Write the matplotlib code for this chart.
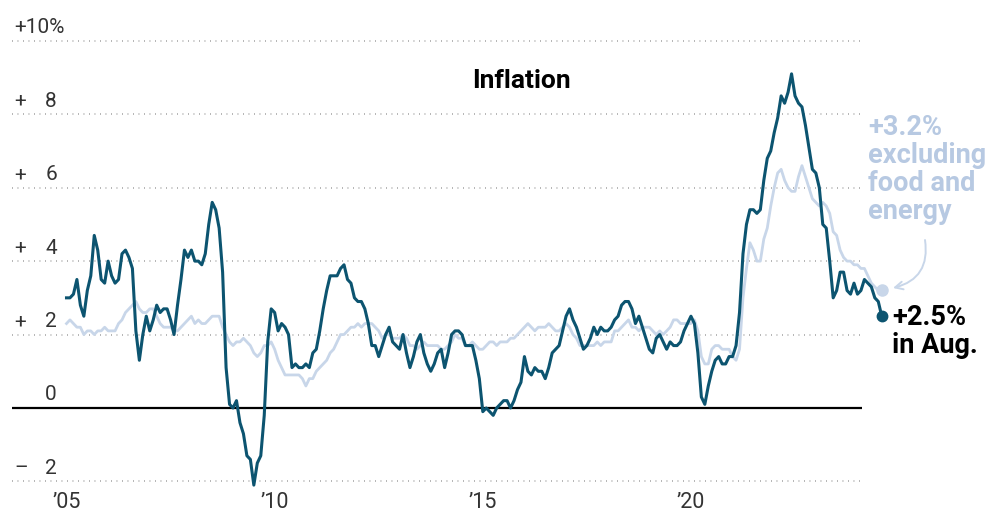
import numpy as np
import matplotlib
matplotlib.use("Agg")
import matplotlib.pyplot as plt

# monthly year-over-year change in CPI, Jan 2005 - Aug 2024
headline = [
    3.0, 3.0, 3.1, 3.5, 2.8, 2.5, 3.2, 3.6, 4.7, 4.3, 3.5, 3.4,
    4.0, 3.6, 3.4, 3.5, 4.2, 4.3, 4.1, 3.8, 2.1, 1.3, 2.0, 2.5,
    2.1, 2.4, 2.8, 2.6, 2.7, 2.7, 2.4, 2.0, 2.8, 3.5, 4.3, 4.1,
    4.3, 4.0, 4.0, 3.9, 4.2, 5.0, 5.6, 5.4, 4.9, 3.7, 1.1, 0.1,
    0.0, 0.2, -0.4, -0.7, -1.3, -1.4, -2.1, -1.5, -1.3, -0.2, 1.8, 2.7,
    2.6, 2.1, 2.3, 2.2, 2.0, 1.1, 1.2, 1.1, 1.1, 1.2, 1.1, 1.5,
    1.6, 2.1, 2.7, 3.2, 3.6, 3.6, 3.6, 3.8, 3.9, 3.5, 3.4, 3.0,
    2.9, 2.9, 2.7, 2.3, 1.7, 1.7, 1.4, 1.7, 2.0, 2.2, 1.8, 1.7,
    1.6, 2.0, 1.5, 1.1, 1.4, 1.8, 2.0, 1.5, 1.2, 1.0, 1.2, 1.5,
    1.6, 1.1, 1.5, 2.0, 2.1, 2.1, 2.0, 1.7, 1.7, 1.7, 1.3, 0.8,
    -0.1, 0.0, -0.1, -0.2, 0.0, 0.1, 0.2, 0.2, 0.0, 0.2, 0.5, 0.7,
    1.4, 1.0, 0.9, 1.1, 1.0, 1.0, 0.8, 1.1, 1.5, 1.6, 1.7, 2.1,
    2.5, 2.7, 2.4, 2.2, 1.9, 1.6, 1.7, 1.9, 2.2, 2.0, 2.2, 2.1,
    2.1, 2.2, 2.4, 2.5, 2.8, 2.9, 2.9, 2.7, 2.3, 2.5, 2.2, 1.9,
    1.6, 1.5, 1.9, 2.0, 1.8, 1.6, 1.8, 1.7, 1.7, 1.8, 2.1, 2.3,
    2.5, 2.3, 1.5, 0.3, 0.1, 0.6, 1.0, 1.3, 1.4, 1.2, 1.2, 1.4,
    1.4, 1.7, 2.6, 4.2, 5.0, 5.4, 5.4, 5.3, 5.4, 6.2, 6.8, 7.0,
    7.5, 7.9, 8.5, 8.3, 8.6, 9.1, 8.5, 8.3, 8.2, 7.7, 7.1, 6.5,
    6.4, 6.0, 5.0, 4.9, 4.0, 3.0, 3.2, 3.7, 3.7, 3.2, 3.1, 3.4,
    3.1, 3.2, 3.5, 3.4, 3.3, 3.0, 2.9, 2.5,
]
core = [
    2.3, 2.4, 2.3, 2.2, 2.2, 2.0, 2.1, 2.1, 2.0, 2.1, 2.1, 2.2,
    2.1, 2.1, 2.1, 2.3, 2.4, 2.6, 2.7, 2.8, 2.9, 2.7, 2.6, 2.6,
    2.7, 2.7, 2.5, 2.3, 2.2, 2.2, 2.2, 2.1, 2.1, 2.2, 2.3, 2.4,
    2.5, 2.3, 2.4, 2.3, 2.3, 2.4, 2.5, 2.5, 2.5, 2.2, 2.0, 1.8,
    1.7, 1.8, 1.8, 1.9, 1.8, 1.7, 1.5, 1.4, 1.5, 1.7, 1.7, 1.8,
    1.6, 1.3, 1.1, 0.9, 0.9, 0.9, 0.9, 0.9, 0.8, 0.6, 0.8, 0.8,
    1.0, 1.1, 1.2, 1.3, 1.5, 1.6, 1.8, 2.0, 2.0, 2.1, 2.2, 2.2,
    2.3, 2.2, 2.3, 2.3, 2.3, 2.2, 2.1, 1.9, 2.0, 2.0, 1.9, 1.9,
    1.9, 2.0, 1.9, 1.7, 1.7, 1.6, 1.7, 1.8, 1.7, 1.7, 1.7, 1.7,
    1.6, 1.6, 1.7, 1.8, 2.0, 1.9, 1.9, 1.7, 1.7, 1.8, 1.7, 1.6,
    1.6, 1.7, 1.8, 1.8, 1.7, 1.8, 1.8, 1.8, 1.9, 1.9, 2.0, 2.1,
    2.2, 2.3, 2.2, 2.1, 2.2, 2.2, 2.2, 2.3, 2.2, 2.1, 2.1, 2.2,
    2.3, 2.2, 2.0, 1.9, 1.7, 1.7, 1.7, 1.7, 1.7, 1.8, 1.7, 1.8,
    1.8, 1.8, 2.1, 2.1, 2.2, 2.3, 2.4, 2.2, 2.2, 2.1, 2.2, 2.2,
    2.2, 2.1, 2.0, 2.1, 2.0, 2.1, 2.2, 2.4, 2.4, 2.3, 2.3, 2.3,
    2.3, 2.4, 2.1, 1.4, 1.2, 1.2, 1.6, 1.7, 1.7, 1.6, 1.6, 1.6,
    1.4, 1.3, 1.6, 3.0, 3.8, 4.5, 4.3, 4.0, 4.0, 4.6, 4.9, 5.5,
    6.0, 6.4, 6.5, 6.2, 6.0, 5.9, 5.9, 6.3, 6.6, 6.3, 6.0, 5.7,
    5.6, 5.5, 5.6, 5.5, 5.3, 4.8, 4.7, 4.3, 4.1, 4.0, 4.0, 3.9,
    3.9, 3.8, 3.8, 3.6, 3.4, 3.3, 3.2, 3.2,
]
y_ticks = [10, 8, 6, 4, 2, 0, -2]
x_ticks = [2005, 2010, 2015, 2020]
x_tick_labels = ["\u201905", "\u201910", "\u201915", "\u201920"]

DARK = "#0c5470"
LIGHT = "#c8d6e9"
LIGHT_TXT = "#b7c9e2"
GRID = "#9a9a9a"
TXT = "#333333"

plt.rcParams['font.family'] = ['Roboto', 'DejaVu Sans']

t = 2005 + np.arange(len(headline)) / 12.0

W, H = 1000, 522
PX_YEAR = 41.63
X0 = 66.5          # pixel of Jan 2005
Y0 = 408.0         # pixel of 0%
PX_PCT = 36.72


def xd(px):
    return 2005 + (px - X0) / PX_YEAR


def yd(py):
    return (Y0 - py) / PX_PCT


fig = plt.figure(figsize=(W / 100, H / 100), dpi=100)
ax = fig.add_axes([0, 0, 1, 1])
ax.set_xlim(xd(0), xd(W))
ax.set_ylim(yd(H), yd(0))
ax.axis("off")

# gridlines
for v in y_ticks:
    if v == 0:
        ax.hlines(0, xd(12), xd(862), color="black", lw=1.6, zorder=2)
    else:
        ax.hlines(v, xd(12), xd(860), color=GRID, lw=1.1,
                  linestyles=(0, (0.6, 3.0)), zorder=1)

# y labels
for v in y_ticks:
    yb = v + 7.5 / PX_PCT
    if v == 10:
        ax.text(xd(14), yb, "+10%", fontsize=15, color=TXT,
                ha="left", va="baseline")
        continue
    sign = "+" if v > 0 else ("\u2013" if v < 0 else "")
    if sign:
        ax.text(xd(14), yb, sign, fontsize=15, color=TXT,
                ha="left", va="baseline")
    ax.text(xd(57), yb, str(abs(v)), fontsize=15, color=TXT,
            ha="right", va="baseline")

# x labels
for yr, lab in zip(x_ticks, x_tick_labels):
    ax.text(yr, yd(508), lab, fontsize=15.5, color=TXT,
            ha="center", va="baseline")

ax.plot(t, core, color=LIGHT, lw=2.0, solid_joinstyle="round", zorder=3)
ax.plot(t, headline, color=DARK, lw=2.2, solid_joinstyle="round", zorder=4)
ax.plot(t[-1], core[-1], "o", color=LIGHT, ms=8, zorder=5)
ax.plot(t[-1], headline[-1], "o", color=DARK, ms=7.5, zorder=6)

ax.text(xd(521), yd(88), "Inflation", fontsize=19, fontweight="bold",
        color="black", ha="center", va="baseline")

# headline label
for i, line in enumerate(["+{:.1f}%".format(headline[-1]), "in Aug."]):
    ax.text(xd(892), yd(325 + 28 * i), line, fontsize=19.5, fontweight="bold",
            color="black", ha="left", va="baseline")

# core label
core_lines = ["+{:.1f}%".format(core[-1]), "excluding", "food and", "energy"]
for i, line in enumerate(core_lines):
    ax.text(xd(868), yd(135 + 28 * i), line, fontsize=19.5, fontweight="bold",
            color=LIGHT_TXT, ha="left", va="baseline")

ax.annotate("", xy=(xd(893), yd(288)), xytext=(xd(925), yd(240)),
            arrowprops=dict(arrowstyle="->", color=LIGHT, lw=1.4,
                            connectionstyle="arc3,rad=-0.45",
                            shrinkA=0, shrinkB=0, mutation_scale=14))

fig.savefig("out.png", dpi=100)
